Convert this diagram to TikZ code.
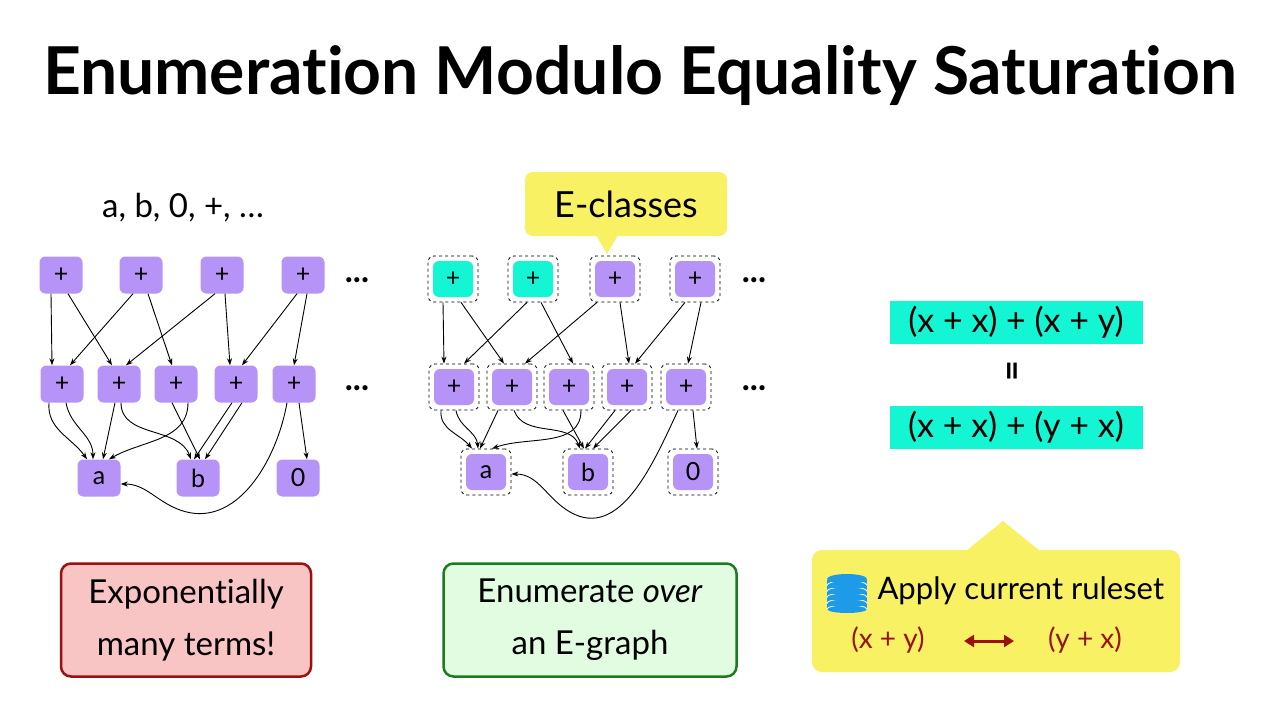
\documentclass[tikz,border=0pt]{standalone}
\usepackage{fontspec}
\setmainfont{Lato}[Ligatures={NoCommon}]
\usetikzlibrary{arrows.meta,calc}
\definecolor{pur}{HTML}{B694F7}
\definecolor{cy}{HTML}{14F5D4}
\definecolor{yel}{HTML}{F8F163}
\definecolor{dred}{HTML}{9B1111}
\definecolor{pinkf}{HTML}{F8C4C4}
\definecolor{dgreen}{HTML}{1E7A1E}
\definecolor{greenf}{HTML}{E2FCE2}
\definecolor{dbblue}{HTML}{1E9BE8}
\begin{document}
\begin{tikzpicture}[x=1pt,y=-1pt,
  n/.style={fill=pur,rounded corners=6pt,minimum width=43pt,minimum height=37pt,inner sep=0pt,font=\fontsize{25}{25}\selectfont},
  m/.style={fill=pur,rounded corners=6pt,minimum width=40pt,minimum height=36pt,inner sep=0pt,font=\fontsize{25}{25}\selectfont},
  c/.style={m,fill=cy},
  ec/.style={draw,dashed,line width=0.8pt,rounded corners=6pt,minimum width=50pt,minimum height=46pt},
  ar/.style={-{Stealth[length=7pt,width=5pt]},line width=0.9pt},
  dots/.style={font=\fontsize{34}{34}\selectfont\bfseries}]
\useasboundingbox (0,0) rectangle (1280,720);
\fill[white] (0,0) rectangle (1280,720);
\node[font=\fontsize{66}{66}\selectfont\bfseries] (title) at (640,76) {Enumeration Modulo Equality Saturation};
\node[font=\fontsize{33}{33}\selectfont] (sig) at (183,208) {a, b, 0, +, \dots};

% left graph
\foreach \i/\x in {1/61,2/141,3/222,4/303} \node[n] (t\i) at (\x,275) {+};
\foreach \i/\x in {1/62,2/119,3/176,4/236,5/294} \node[n] (m\i) at (\x,384) {+};
\node[n] (a) at (99,478) {a};
\node[n] (b) at (198,478) {b};
\node[n] (z) at (298,478) {0};
\node[dots] (d1) at (357,280) {...};
\node[dots] (d2) at (357,388) {...};
\draw[ar] ([xshift=-10pt]t1.south) -- ([xshift=-10pt]m1.north);
\draw[ar] ([xshift=7pt]t1.south) -- ([xshift=-7pt]m2.north);
\draw[ar] ([xshift=-8pt]t2.south) -- ([xshift=8pt]m1.north);
\draw[ar] ([xshift=7pt]t2.south) -- ([xshift=-4pt]m3.north);
\draw[ar] ([xshift=-7pt]t3.south) -- ([xshift=7pt]m2.north);
\draw[ar] ([xshift=3pt]t3.south) -- ([xshift=-6pt]m4.north);
\draw[ar] ([xshift=-6pt]t4.south) -- ([xshift=6pt]m4.north);
\draw[ar] ([xshift=4pt]t4.south) -- ([xshift=0pt]m5.north);
\draw[ar] ([xshift=-13pt]m1.south) to[out=-95,in=125] ([xshift=-12pt]a.north);
\draw[ar] ([xshift=4pt]m1.south) to[out=-80,in=90] ([xshift=-6pt]a.north);
\draw[ar] ([xshift=-4pt]m2.south) -- ([xshift=4pt]a.north);
\draw[ar] ([xshift=2pt]m2.south) to[out=-90,in=110] ([xshift=-7pt]b.north);
\draw[ar] ([xshift=-4pt]m3.south) -- ([xshift=2pt]b.north);
\draw[ar] ([xshift=12pt]m3.south) to[out=-90,in=30] ([xshift=10pt]a.north);
\draw[ar] ([xshift=-4pt]m4.south) -- ([xshift=-4pt]b.north);
\draw[ar] ([xshift=6pt]m4.south) -- ([xshift=7pt]b.north);
\draw[ar] ([xshift=5pt]m5.south) -- ([xshift=9pt]z.north);
\draw[ar] ([xshift=-7pt]m5.south) to[out=-100,in=-20] (180,510) to[out=160,in=0] ([yshift=-6pt]a.east);

% right graph
\node[c] (u1) at (453,279) {+};
\node[c] (u2) at (533,279) {+};
\node[m] (u3) at (615,279) {+};
\node[m] (u4) at (695,279) {+};
\foreach \i/\x in {1/454,2/512,3/569,4/627,5/686} \node[m] (v\i) at (\x,387) {+};
\node[m] (ra) at (486,472) {a};
\node[m] (rb) at (588,472) {b};
\node[m] (rz) at (693,472) {0};
\foreach \k in {u1,u2,u3,u4,v1,v2,v3,v4,v5,ra,rb,rz} \node[ec] (e\k) at (\k) {};
\node[dots] (d3) at (754,280) {...};
\node[dots] (d4) at (754,388) {...};
\draw[ar] ([xshift=-10pt]eu1.south) -- ([xshift=-10pt]ev1.north);
\draw[ar] ([xshift=8pt]eu1.south) -- ([xshift=-8pt]ev2.north);
\draw[ar] ([xshift=-6pt]eu2.south) -- ([xshift=10pt]ev1.north);
\draw[ar] ([xshift=8pt]eu2.south) -- ([xshift=4pt]ev3.north);
\draw[ar] ([xshift=-18pt]eu3.south) -- ([xshift=13pt]ev2.north);
\draw[ar] ([xshift=5pt]eu3.south) -- ([xshift=2pt]ev4.north);
\draw[ar] ([xshift=-10pt]eu4.south) -- ([xshift=8pt]ev4.north);
\draw[ar] ([xshift=6pt]eu4.south) -- ([xshift=2pt]ev5.north);
\draw[ar] ([xshift=-13pt]ev1.south) to[out=-95,in=130] ([xshift=-14pt]era.north);
\draw[ar] ([xshift=2pt]ev1.south) to[out=-80,in=95] ([xshift=-8pt]era.north);
\draw[ar] ([xshift=-14pt]ev2.south) -- ([xshift=-6pt]era.north);
\draw[ar] ([xshift=2pt]ev2.south) to[out=-70,in=110] ([xshift=-8pt]erb.north);
\draw[ar] ([xshift=-6pt]ev3.south) -- ([xshift=-4pt]erb.north);
\draw[ar] ([xshift=12pt]ev3.south) to[out=-90,in=20] ([xshift=6pt]era.north);
\draw[ar] ([xshift=-12pt]ev4.south) -- ([xshift=-3pt]erb.north);
\draw[ar] ([xshift=4pt]ev4.south) -- ([xshift=5pt]erb.north);
\draw[ar] ([xshift=7pt]ev5.south) -- ([xshift=4pt]erz.north);
\draw[ar] ([xshift=-8pt]ev5.south) to[out=-115,in=-30] (570,512) to[out=150,in=0] ([yshift=-2pt]era.east);

% E-classes callout
\fill[yel,rounded corners=8pt] (525,172) rectangle (727,236);
\fill[yel] (596,235) -- (618,235) -- (607,254) -- cycle;
\node[font=\fontsize{36}{36}\selectfont] (ecl) at (626,204) {E-classes};

% equation
\node[fill=cy,minimum width=253pt,minimum height=43pt,font=\fontsize{34}{34}\selectfont] (eq1) at (1016,322) {(x + x) + (x + y)};
\node[rotate=90,font=\fontsize{36}{36}\selectfont\bfseries] (eqs) at (1016,371) {=};
\node[fill=cy,minimum width=253pt,minimum height=43pt,font=\fontsize{34}{34}\selectfont] (eq2) at (1016,427) {(x + x) + (y + x)};

% bottom boxes
\node[draw=dred,fill=pinkf,line width=2.5pt,rounded corners=10pt,minimum width=250pt,minimum height=113pt,align=center,font=\fontsize{33}{52}\selectfont] (exp) at (186,620) {Exponentially\\many terms!};
\node[draw=dgreen,fill=greenf,line width=2.5pt,rounded corners=10pt,minimum width=293pt,minimum height=113pt,align=center,font=\fontsize{33}{52}\selectfont] (enu) at (590,620) {Enumerate \textit{over}\\an E-graph};

\fill[yel,rounded corners=10pt] (812,550) rectangle (1180,672);
\fill[yel] (966,551) -- (1003,521) -- (1040,551) -- cycle;
\node[font=\fontsize{31}{31}\selectfont,anchor=west] (apply) at (874,591) {Apply current ruleset};
% database icon
\foreach \yy in {604,598,592,586,580} {
  \fill[dbblue] (827,\yy) rectangle (867,\yy+5);
  \fill[dbblue] (847,\yy+5) ellipse (20 and 4);
  \draw[white,line width=0.8pt] (827,\yy+5) arc[start angle=180,end angle=360,x radius=20,y radius=4];
}
\fill[dbblue] (847,579) ellipse (20 and 5);
\node[text=dred,font=\fontsize{28}{28}\selectfont] (l1) at (888,640) {(x + y)};
\node[text=dred,font=\fontsize{28}{28}\selectfont] (l2) at (1085,640) {(y + x)};
\draw[dred,line width=3pt,{Triangle[length=10pt,width=12pt]}-{Triangle[length=10pt,width=12pt]}] (964,641) -- (1014,641);
\end{tikzpicture}
\end{document}
